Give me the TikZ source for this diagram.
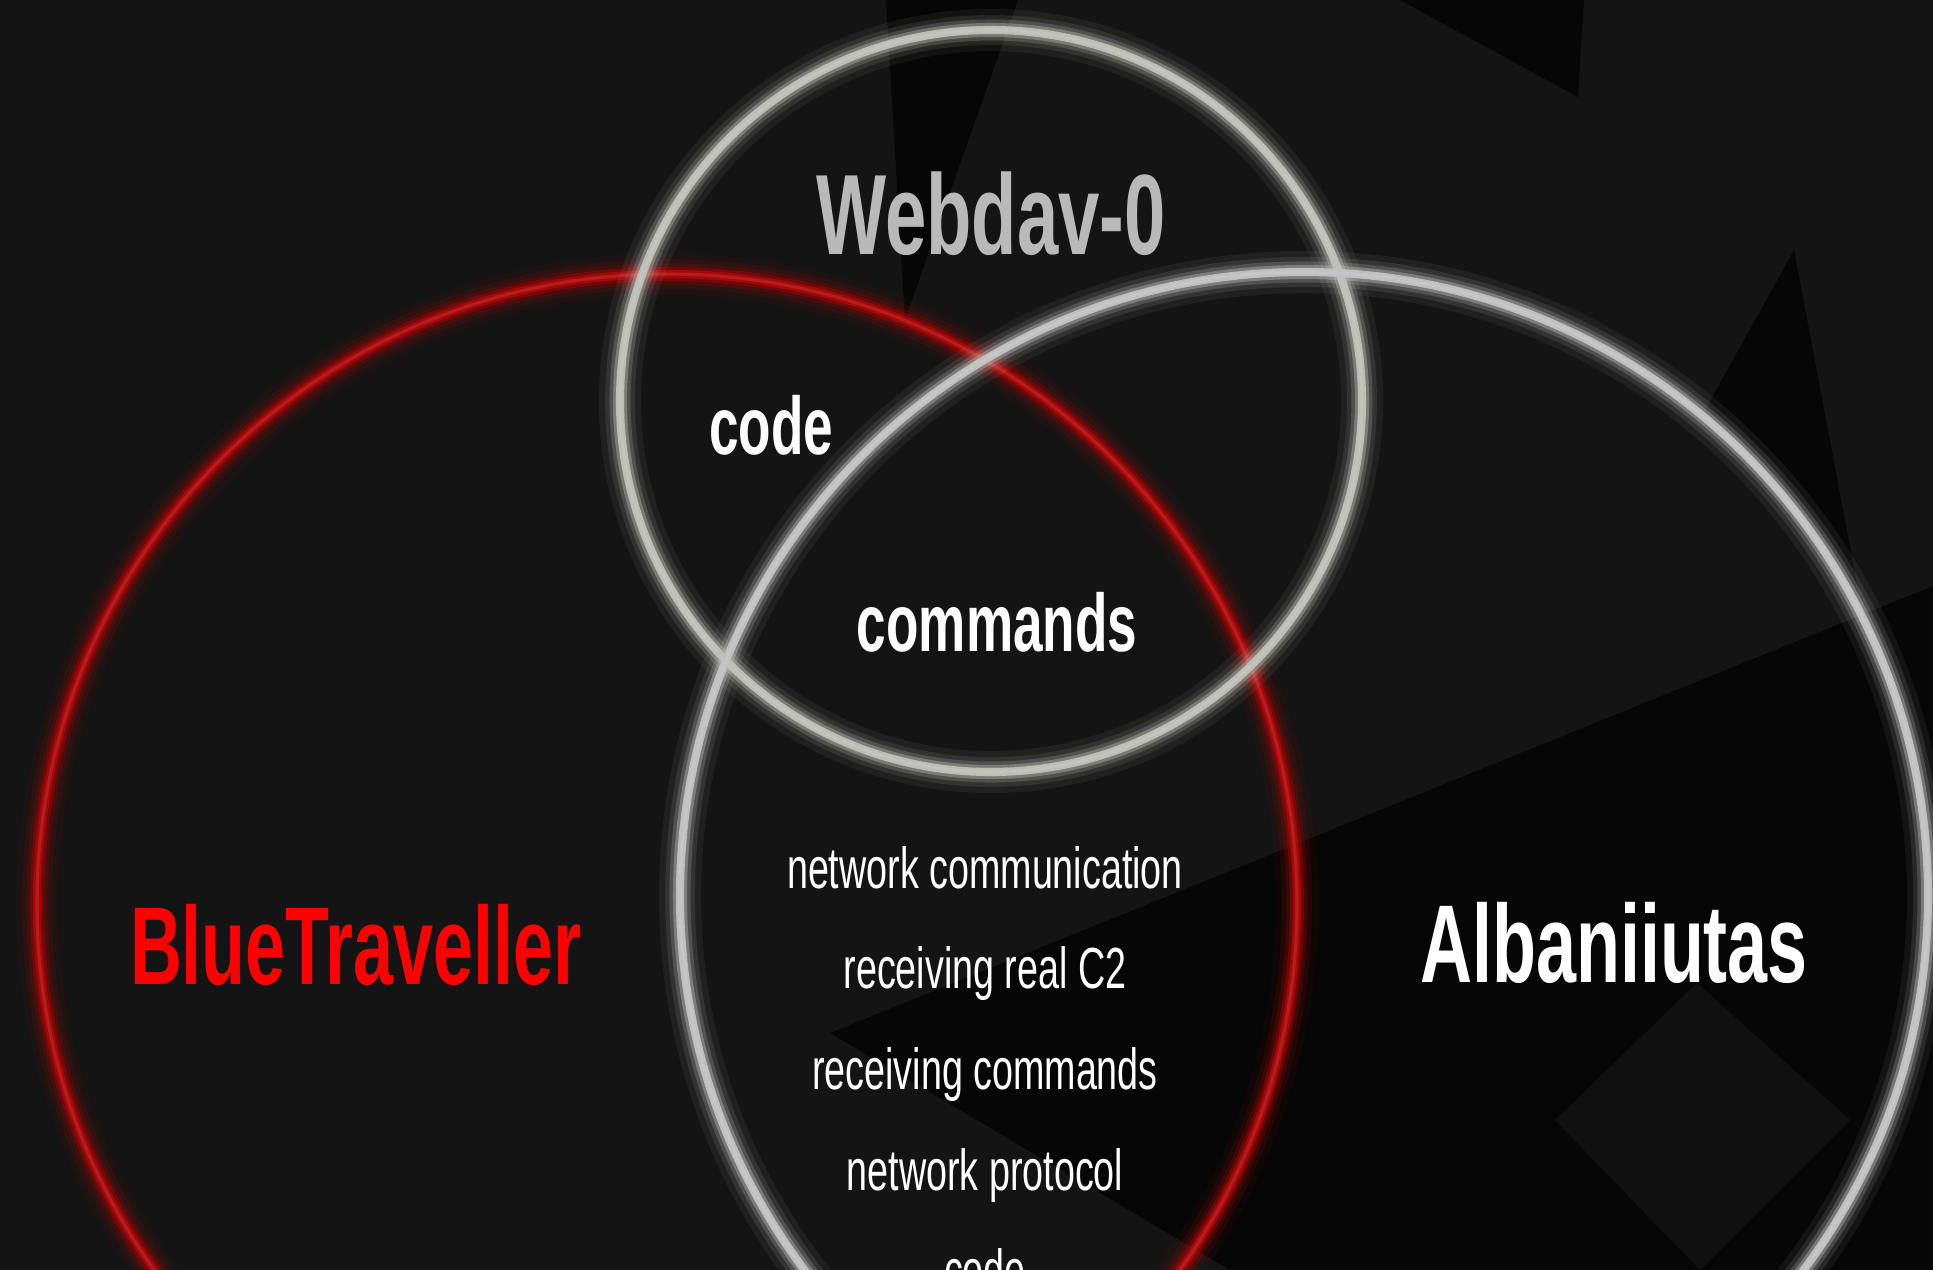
\documentclass[tikz,border=0pt]{standalone}
\usepackage{fontspec}
\setmainfont{Liberation Sans}[FakeStretch=0.65]
\usepackage{tikz}
\usetikzlibrary{positioning}
\definecolor{bgdark}{HTML}{141414}
\definecolor{bgdeep}{HTML}{060606}
\definecolor{bglight}{HTML}{101010}
\definecolor{ringred}{HTML}{A80606}
\definecolor{ringgrey}{HTML}{BDBEB5}
\definecolor{ringwhite}{HTML}{C0C0C0}
\definecolor{webgrey}{HTML}{B9B9B9}
\tikzset{
  bigname/.style={anchor=base, inner sep=0pt, font=\fontsize{63}{70}\selectfont\bfseries},
  overlap/.style={anchor=base, inner sep=0pt, text=white, font=\fontsize{46.5}{50}\selectfont\bfseries},
  shared/.style={anchor=base, inner sep=0pt, text=white, font=\fontsize{33}{36}\selectfont}
}

\begin{document}
\begin{tikzpicture}[x=0.02cm,y=-0.02cm]
  \useasboundingbox (0,0) rectangle (1933,1270);
  \clip (0,0) rectangle (1933,1270);
  \fill[bgdark] (0,0) rectangle (1933,1270);
  % dark shapes behind
  \fill[bgdeep] (830,1033) -- (1933,586) -- (1933,1270) -- (1230,1270) -- cycle;
  \fill[bgdeep] (1700,419) -- (1794,250) -- (1860,600) -- cycle;
  \fill[bgdeep] (886,0) -- (1018,0) -- (905,320) -- cycle;
  \fill[bgdeep] (1400,0) -- (1584,0) -- (1578,97) -- cycle;
  \fill[bglight] (1697,983) -- (1850,1120) -- (1700,1270) -- (1555,1120) -- cycle;

  \coordinate (bluet) at (667,904);
  \coordinate (webdav) at (991,401);
  \coordinate (alban) at (1304,896);

  % glowing rings
  \foreach \c/\r/\col in {bluet/630/ringred, webdav/371/ringgrey, alban/624/ringwhite}{
    \foreach \w/\o in {24/0.07, 17/0.12, 12/0.22, 8/0.4}
      \draw[\col, line width=\w pt, opacity=\o] (\c) circle[radius=\r];
    \draw[\col, line width=4.6pt] (\c) circle[radius=\r];
    \draw[\col!80!white, line width=1.8pt, opacity=0.5] (\c) circle[radius=\r];
  }

  \node[bigname, text=webgrey, font=\fontsize{65}{70}\selectfont\bfseries] (webdavlbl) at (991,255) {Webdav-0};
  \node[bigname, text=red] (bluetlbl) at (356,984) {BlueTraveller};
  \node[bigname, text=white] (albanlbl) at (1614,982) {Albaniiutas};
  \node[overlap] (codelbl) at (771,454) {code};
  \node[overlap] (cmdlbl) at (997,651) {commands};

  \foreach \t [count=\i] in {network communication, receiving real C2, receiving commands, network protocol, code}
    \node[shared] (item\i) at (985,{888+100.7*(\i-1)}) {\t};
\end{tikzpicture}
\end{document}
